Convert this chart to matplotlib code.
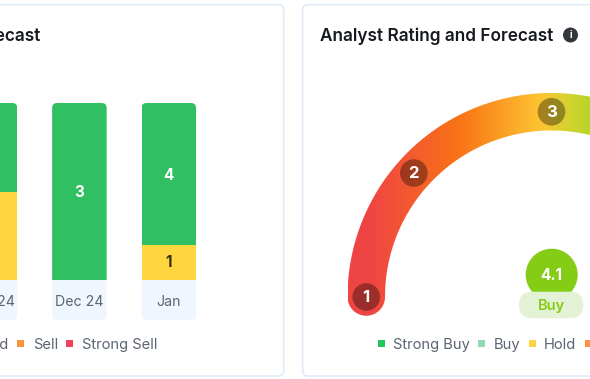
import numpy as np
import matplotlib
matplotlib.use("Agg")
import matplotlib.pyplot as plt
from matplotlib.colors import LinearSegmentedColormap
from matplotlib.patches import Circle, FancyBboxPatch, Polygon, Rectangle

plt.rcParams["font.family"] = ["Inter", "Noto Sans", "DejaVu Sans"]

# bar chart data
months = ["Nov 24", "Dec 24", "Jan"]
strong_buy = [2, 3, 4]
hold = [2, 0, 1]

# gauge data
gauge_ticks = [1, 2, 3]
gauge_angles = [180, 138, 90]
score = 4.1
score_label = "Buy"

# legend entries: label, colour
left_legend = [("Hold", None), ("Sell", "#fb923c"), ("Strong Sell", "#f43f5e")]
right_legend = [("Strong Buy", "#22c55e"), ("Buy", "#8fdcb2"), ("Hold", "#ffd23f"), ("", "#fb923c")]

GREEN = "#31bf63"
YELLOW = "#ffd640"
DARK = "#16191f"
GREY = "#5b6472"
BORDER = "#dfe9f8"
STEP = 89.4

fig = plt.figure(figsize=(5.9, 3.79), dpi=100, facecolor="white")
# pixel axes for the page furniture
ax = fig.add_axes([0, 0, 1, 1])
ax.set_xlim(0, 590)
ax.set_ylim(379, 0)
ax.axis("off")


def card(x0, x1):
    ax.add_patch(FancyBboxPatch((x0 + 4, 8.7), x1 - x0 - 8, 363.3, boxstyle="round,pad=4,rounding_size=5",
                                fc="white", ec=BORDER, lw=1.1, zorder=0))


card(-30, 283.7)
card(302.7, 640)

ax.text(40.5, 36.5, "Analyst Rating and Forecast", ha="right", va="center", fontsize=12.4, fontweight=600, color=DARK)
ax.text(320, 36.5, "Analyst Rating and Forecast", ha="left", va="center", fontsize=12.4, fontweight=600, color=DARK)
ax.add_patch(Circle((570.5, 35), 7.5, fc="#33363b", ec="none"))
ax.text(570.5, 35.2, "i", ha="center", va="center", fontsize=7, fontweight="bold", color="white")

# stacked bars, as shares of each month's total
bax = fig.add_axes([0, 1 - 280 / 379, 295 / 590, 177 / 379])
bax.set_xlim(10 / STEP, 10 / STEP + 295 / STEP)
bax.set_ylim(0, 1)
bax.axis("off")
bax.patch.set_alpha(0)
x = np.arange(len(months))
totals = np.array(strong_buy) + np.array(hold)
hold_share = np.array(hold) / totals
buy_share = np.array(strong_buy) / totals
hold_bars = bax.bar(x, hold_share, width=54.5 / STEP, color=YELLOW)
buy_bars = bax.bar(x, buy_share, bottom=hold_share, width=54.5 / STEP, color=GREEN)

for i, month in enumerate(months):
    cx = -10 + STEP * i
    # label cell below the bar
    ax.add_patch(FancyBboxPatch((cx - 23.25, 284), 46.5, 32, boxstyle="round,pad=4,rounding_size=5",
                                fc="#f0f6fe", ec="none", zorder=1))
    ax.add_patch(Rectangle((cx - 27.25, 280), 54.5, 10, fc="#f0f6fe", ec="none", zorder=1))
    ax.text(cx, 301.5, month, ha="center", va="center", fontsize=10.2, color=GREY, zorder=3)
    # round the top of the column
    clip = FancyBboxPatch((cx - 23.25, 107), 46.5, 180, boxstyle="round,pad=4,rounding_size=5",
                          transform=ax.transData, fc="none", ec="none")
    ax.add_patch(clip)
    buy_bars[i].set_clip_path(clip)
    hold_bars[i].set_clip_path(clip)
    if strong_buy[i]:
        bax.annotate(str(strong_buy[i]), (x[i], hold_share[i] + buy_share[i] / 2), xytext=(0, -1.0),
                     textcoords="offset points", ha="center", va="center",
                     fontsize=11, fontweight="bold", color="white")
    if hold[i]:
        bax.annotate(str(hold[i]), (x[i], hold_share[i] / 2), xytext=(0, -0.5),
                     textcoords="offset points", ha="center", va="center",
                     fontsize=11, fontweight="bold", color="#3a2f0c")

# gauge
cx, cy = 551.5, 297
outer, inner = 204, 166.5
mid = (outer + inner) / 2
cap = (outer - inner) / 2
t = np.radians(np.linspace(180, 360, 240))
a = np.radians(np.linspace(0, 180, 40))
outline = np.vstack([
    np.column_stack([cx + outer * np.cos(t), cy + outer * np.sin(t)]),
    np.column_stack([cx + inner * np.cos(t[::-1]), cy + inner * np.sin(t[::-1])]),
    np.column_stack([cx - mid + cap * np.cos(a), cy + cap * np.sin(a)]),
])
shape = Polygon(outline, closed=True, fc="none", ec="none", transform=ax.transData)
ax.add_patch(shape)
cmap = LinearSegmentedColormap.from_list("gauge", [
    (0.0, "#ef4444"), (0.08, "#ef4444"), (0.46, "#f97316"), (0.80, "#fdc532"), (0.93, "#cdd42e"), (1.0, "#b8d42a")])
img = ax.imshow(np.linspace(0, 1, 256).reshape(1, -1), cmap=cmap, extent=(348, 590, 320, 90), aspect="auto", zorder=2)
img.set_clip_path(shape)
ax.set_xlim(0, 590)
ax.set_ylim(379, 0)

for tick, ang in zip(gauge_ticks, gauge_angles):
    px = cx + mid * np.cos(np.radians(ang))
    py = cy - mid * np.sin(np.radians(ang))
    ax.add_patch(Circle((px, py), 13.8, fc="black", alpha=0.35, ec="none", zorder=3))
    ax.text(px, py + 0.3, str(tick), ha="center", va="center", fontsize=12, fontweight="bold", color="white", zorder=4)

ax.add_patch(Circle((551.7, 274.7), 26, fc="#84cc16", ec="none", zorder=3))
ax.text(551.7, 275, str(score), ha="center", va="center", fontsize=11, fontweight="bold", color="white", zorder=5)
ax.add_patch(FancyBboxPatch((532, 304.7), 38.3, 0.5, boxstyle="round,pad=13,rounding_size=13",
                            fc="#e3f1d5", ec="none", zorder=4))
ax.text(551.2, 306, score_label, ha="center", va="center", fontsize=10.5, fontweight=600, color="#84cc16", zorder=5)


# legends
def legend(entries, starts, swatches):
    for (label, colour), tx, sx in zip(entries, starts, swatches):
        if colour and sx is not None:
            ax.add_patch(Rectangle((sx, 340.2), 7, 7, fc=colour, ec="none", zorder=3))
        if label:
            ax.text(tx, 345, label, ha="left", va="center", fontsize=10.6, color=GREY)


ax.text(9, 345, left_legend[0][0], ha="right", va="center", fontsize=10.6, color=GREY)
legend(left_legend[1:], [33, 82], [17.3, 66.3])
legend(right_legend, [393, 494, 544, 600], [378, 478.3, 529, 585])

fig.savefig("out.png", dpi=100)
